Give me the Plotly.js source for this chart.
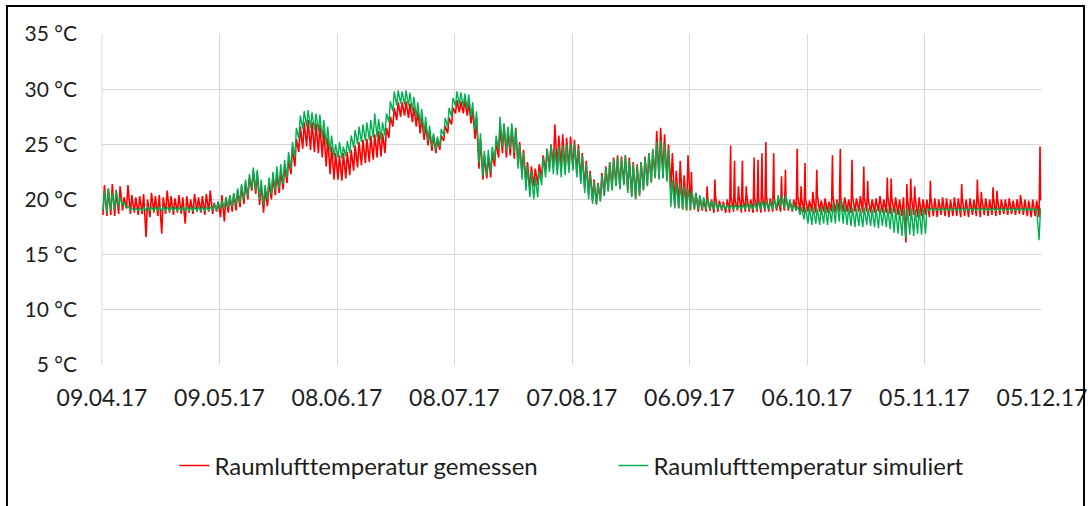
<!DOCTYPE html>
<html>
<head>
<meta charset="utf-8">
<script src="https://cdn.plot.ly/plotly-3.0.1.min.js"></script>
<style>
  html, body { margin: 0; padding: 0; background: #fff; }
  #chart { width: 1088px; height: 506px; }
</style>
</head>
<body>
<div id="chart"></div>
<script>
// Raumlufttemperatur 09.04.2017 – 05.12.2017, daily low / high per day (°C)
const startDay = '2017-04-09';
const endDay = '2017-12-05';

const measuredLow = [
  18.6,18.5,18.6,18.5,18.7,19.0,19.2,18.7,18.8,18.6,
  18.7,16.6,18.4,18.8,18.5,16.9,18.7,18.8,18.6,18.8,
  18.7,17.8,18.8,18.7,18.9,18.8,18.6,18.9,18.7,18.9,
  18.4,18.0,18.8,18.9,19.0,19.3,19.6,20.0,20.8,20.5,
  19.5,18.8,19.4,20.0,20.4,20.6,20.9,21.5,22.3,23.0,
  24.3,24.6,24.8,24.5,24.3,24.2,23.8,23.0,22.3,21.8,
  21.8,21.7,21.9,22.2,22.6,22.9,23.1,23.3,23.4,23.6,
  23.8,23.9,24.2,25.6,26.6,27.2,27.5,27.6,27.4,27.0,
  26.6,26.0,25.4,24.9,24.4,24.2,24.5,25.3,26.0,26.8,
  27.8,27.9,27.8,27.6,26.9,25.5,22.8,21.8,21.9,22.0,
  23.0,23.8,24.2,23.8,24.0,23.7,23.0,22.3,21.5,21.0,
  21.2,21.3,22.0,22.5,22.8,23.0,22.6,22.8,22.5,22.7,
  22.8,22.3,21.7,21.0,20.5,19.9,19.6,19.9,20.4,20.8,
  21.0,21.3,21.0,21.4,20.8,20.3,20.1,20.4,20.9,21.3,
  21.6,22.0,21.9,22.0,21.8,21.0,19.4,19.2,19.1,19.0,
  19.0,19.1,18.9,19.0,18.9,19.0,18.8,18.9,19.0,18.8,
  18.8,18.9,19.0,18.8,18.9,18.9,18.8,18.9,18.8,18.9,
  18.9,18.9,19.0,18.9,19.0,19.0,18.9,19.0,18.9,18.8,
  18.9,18.9,18.8,18.9,18.9,18.8,18.9,18.8,18.9,18.9,
  18.9,18.8,18.9,18.9,18.8,18.9,18.8,18.8,18.9,18.8,
  18.8,18.7,18.8,18.6,18.5,16.1,18.5,18.6,18.4,18.5,
  18.6,18.4,18.5,18.4,18.6,18.5,18.4,18.5,18.5,18.4,
  18.5,18.4,18.6,18.5,18.4,18.6,18.5,18.6,18.5,18.6,
  18.7,18.6,18.7,18.6,18.7,18.6,18.5,18.4,18.5,18.4
];
const measuredHigh = [
  21.3,21.0,21.4,20.8,21.2,20.2,21.3,20.4,20.2,20.3,
  20.5,20.0,20.6,20.3,20.4,20.2,20.8,20.3,20.1,20.4,
  20.2,20.3,20.0,20.5,20.2,20.3,20.5,20.8,19.7,19.8,
  20.4,20.2,20.3,20.5,20.8,21.2,21.5,22.0,22.6,22.4,
  21.4,20.8,21.5,22.0,22.3,22.6,23.0,23.6,24.6,25.5,
  26.6,27.0,27.2,27.0,26.9,26.8,26.3,25.6,24.8,24.2,
  24.0,24.2,24.3,24.5,24.9,25.2,25.4,25.5,25.8,25.9,
  26.2,26.0,26.5,27.5,28.3,28.8,28.8,28.9,28.7,28.4,
  28.0,27.4,26.8,26.2,25.8,25.4,25.8,26.7,27.4,28.3,
  29.0,28.9,29.0,28.8,28.2,27.4,25.5,24.0,23.9,24.2,
  25.3,26.5,26.8,26.2,26.6,26.5,25.2,24.5,23.4,23.0,
  22.8,23.2,24.0,24.6,25.0,26.8,25.8,25.9,25.6,25.7,
  25.4,25.0,24.2,23.5,22.6,21.8,21.5,22.4,23.0,23.4,
  23.8,24.0,23.9,24.0,23.8,23.4,23.2,23.4,23.9,24.2,
  24.5,26.2,26.5,25.9,25.0,24.2,22.6,23.5,22.2,24.0,
  20.6,20.6,20.3,20.0,20.2,20.0,20.3,19.9,19.8,20.0,
  20.2,20.0,20.4,20.1,20.3,20.0,20.2,20.1,20.4,20.3,
  20.1,20.2,20.0,20.3,20.2,19.9,20.0,20.3,20.1,20.0,
  19.9,20.2,20.4,19.9,20.1,19.8,20.3,20.0,20.2,20.2,
  20.0,20.3,20.1,20.3,20.2,20.1,20.0,20.1,20.3,20.0,
  20.3,20.2,20.2,20.0,20.2,20.1,20.3,20.2,20.2,20.0,
  20.0,20.2,20.1,20.0,20.2,20.1,20.0,20.2,20.1,20.2,
  20.0,20.1,20.0,20.3,20.1,20.1,20.0,20.2,20.1,20.0,
  20.0,20.1,19.9,20.0,20.1,20.0,19.9,20.0,19.9,19.9
];
// short heating peaks of the measured series (day index from startDay, °C)
const peakDays = [150,154,156,160,161,162,163,164,166,167,168,169,171,173,174,177,178,179,181,182,
                  186,188,191,194,195,200,201,205,206,207,211,219,223,224,227,228,234,239];
const peakValues = [22.5,21.2,21.8,24.9,23.5,21.2,23.5,21.2,23.8,23.6,24.2,25.2,24.2,22.1,22.7,24.6,21.2,23.3,20.7,22.7,
                    24.0,24.6,23.6,23.0,21.7,22.0,21.9,21.4,21.9,21.2,21.7,21.4,21.8,20.7,21.1,20.8,20.4,24.8];

const simulatedLow = [
  19.0,18.8,19.0,19.1,19.3,19.5,19.2,19.1,19.0,19.0,
  19.0,19.0,19.0,19.0,19.0,19.0,19.0,19.0,19.0,19.0,
  19.0,19.0,19.0,19.0,19.0,19.0,19.0,19.0,19.1,19.0,
  19.1,19.2,19.3,19.3,19.5,19.7,20.0,20.3,21.0,20.8,
  20.0,19.5,20.0,20.5,20.8,21.0,21.4,22.0,22.8,23.8,
  25.5,26.4,26.6,26.5,26.3,26.2,25.6,24.9,24.3,23.8,
  23.8,23.7,23.9,24.2,24.7,25.0,25.2,25.3,25.4,25.6,
  25.6,25.4,25.8,27.0,28.0,28.5,28.7,28.6,28.5,28.0,
  27.4,26.8,26.0,25.3,24.8,24.5,24.8,25.8,26.6,27.5,
  28.5,28.6,28.4,28.2,27.5,26.3,23.3,22.1,22.2,22.4,
  23.5,24.5,24.8,24.4,24.6,24.2,22.8,21.8,20.8,20.2,
  20.0,20.2,21.3,22.0,22.5,22.3,22.2,22.0,22.2,22.4,
  22.6,22.0,21.4,20.6,20.0,19.6,19.5,19.8,20.3,20.7,
  20.8,21.2,20.9,21.3,20.6,20.2,20.0,20.3,20.8,21.2,
  21.5,21.9,21.8,21.9,21.6,19.3,19.2,19.2,19.1,19.0,
  19.1,19.1,19.1,19.1,19.1,19.1,19.1,19.1,19.1,19.1,
  19.1,19.1,19.1,19.1,19.1,19.1,19.1,19.1,19.1,19.1,
  19.1,19.1,19.2,19.3,19.2,19.1,19.0,19.0,18.6,18.2,
  17.8,17.7,17.8,17.7,17.8,17.7,17.9,17.8,18.0,17.8,
  17.7,17.6,17.5,17.6,17.5,17.7,17.6,17.5,17.4,17.6,
  17.5,17.3,17.0,16.9,16.7,16.5,16.8,16.7,16.9,16.8,
  16.9,19.0,19.0,19.0,19.0,19.0,19.0,19.0,19.0,19.0,
  19.0,19.0,19.0,19.0,19.0,19.0,19.0,19.0,19.0,19.0,
  19.0,19.0,19.0,19.0,19.0,19.0,19.0,19.0,19.0,16.3
];
const simulatedHigh = [
  20.8,21.0,20.6,20.9,20.2,19.8,19.4,19.2,19.2,19.2,
  19.3,19.3,19.3,19.3,19.3,19.3,19.3,19.3,19.3,19.3,
  19.3,19.3,19.3,19.3,19.3,19.3,19.3,19.3,19.6,19.8,
  19.9,20.2,20.4,20.6,21.0,21.4,21.8,22.3,22.9,22.7,
  21.8,21.3,22.0,22.5,23.0,23.2,23.6,24.3,25.2,26.5,
  27.6,28.0,28.1,27.9,27.8,27.7,27.2,26.6,25.8,25.0,
  25.2,24.8,25.3,25.8,26.3,26.6,26.8,27.0,27.2,27.8,
  27.3,27.0,27.8,28.9,29.8,29.9,29.8,29.9,29.7,29.3,
  28.8,28.2,27.5,26.7,26.0,25.7,26.4,27.4,28.3,29.2,
  29.8,29.7,29.6,29.5,28.8,28.0,26.0,24.4,24.5,24.8,
  25.8,27.5,26.9,26.6,26.9,26.4,25.0,24.2,23.0,22.5,
  22.0,22.6,23.8,24.6,25.0,24.6,24.8,24.9,25.0,25.1,
  25.1,24.6,24.0,23.2,22.4,21.6,21.4,22.2,22.9,23.4,
  23.6,23.9,23.7,24.0,23.6,23.2,23.1,23.4,23.8,24.2,
  24.6,25.2,25.4,25.1,24.6,21.8,21.6,21.4,21.2,21.0,
  20.8,20.6,20.4,20.2,20.1,19.9,19.8,19.6,19.6,19.5,
  19.5,19.6,19.5,19.6,19.7,19.6,19.7,19.8,19.9,19.8,
  19.8,20.0,20.4,20.3,20.4,20.0,19.6,19.4,19.3,19.3,
  19.3,19.3,19.2,19.3,19.4,19.3,19.6,19.8,20.0,19.5,
  19.3,19.3,19.2,19.2,19.3,19.2,19.1,19.2,19.3,19.2,
  19.2,19.3,19.2,19.1,19.2,19.2,19.2,19.1,19.2,19.2,
  19.2,19.2,19.2,19.2,19.2,19.2,19.2,19.2,19.2,19.2,
  19.2,19.2,19.2,19.2,19.2,19.2,19.2,19.2,19.2,19.2,
  19.2,19.2,19.2,19.2,19.2,19.2,19.2,19.2,19.2,19.2
];

const seriesNames = ['Raumlufttemperatur gemessen', 'Raumlufttemperatur simuliert'];
const yTicks = [5, 10, 15, 20, 25, 30, 35];

// Each day contributes its early-morning low, an optional short peak, and the afternoon high.
const DAY_MS = 86400000;
function dayCurve(low, high, pDays, pValues) {
  const t0 = Date.parse(startDay + 'T00:00:00Z');
  const peaks = new Map((pDays || []).map((d, k) => [d, pValues[k]]));
  const x = [], y = [];
  const stamp = ms => new Date(ms).toISOString().slice(0, 19).replace('T', ' ');
  for (let i = 0; i < low.length; i++) {
    x.push(stamp(t0 + (i + 0.25) * DAY_MS)); y.push(low[i]);
    if (peaks.has(i)) { x.push(stamp(t0 + (i + 0.5) * DAY_MS)); y.push(peaks.get(i)); }
    x.push(stamp(t0 + (i + 0.625) * DAY_MS)); y.push(high[i]);
  }
  return { x, y };
}

const measured = dayCurve(measuredLow, measuredHigh, peakDays, peakValues);
const simulated = dayCurve(simulatedLow, simulatedHigh);

const family = 'Lato, "Open Sans", sans-serif';
const textColor = '#1e1e1e';

const traces = [
  { type: 'scatter', mode: 'lines', name: seriesNames[0], x: measured.x, y: measured.y,
    line: { color: '#ff0000', width: 1.6 }, hoverinfo: 'skip' },
  { type: 'scatter', mode: 'lines', name: seriesNames[1], x: simulated.x, y: simulated.y,
    line: { color: '#00b050', width: 1.4 }, hoverinfo: 'skip' }
];

const layout = {
  width: 1088, height: 506,
  margin: { l: 102, r: 46, t: 34, b: 141 },
  paper_bgcolor: '#ffffff', plot_bgcolor: '#ffffff',
  font: { family: family, size: 21, color: textColor },
  showlegend: true,
  legend: {
    orientation: 'h', x: 0.077, xanchor: 'left', y: -0.305, yanchor: 'middle',
    font: { family: family, size: 24, color: textColor },
    entrywidth: 394, entrywidthmode: 'pixels', traceorder: 'normal'
  },
  xaxis: {
    type: 'date', range: [startDay, endDay],
    tick0: startDay, dtick: 30 * DAY_MS, tickformat: '%d.%m.%y',
    showgrid: true, gridcolor: '#d9d9d9', gridwidth: 1,
    zeroline: false, showline: false, ticks: '', ticklabelstandoff: 17,
    tickfont: { family: family, size: 23, color: textColor }
  },
  yaxis: {
    range: [5, 35], tickvals: yTicks, ticktext: yTicks.map(v => v + ' °C'),
    showgrid: true, gridcolor: '#d9d9d9', gridwidth: 1,
    zeroline: false, showline: false, ticks: '', ticklabelstandoff: 24,
    tickfont: { family: family, size: 21, color: textColor }
  },
  shapes: [
    { type: 'line', xref: 'paper', yref: 'paper', x0: 0, x1: 0, y0: 0, y1: 1,
      line: { color: '#d9d9d9', width: 1 }, layer: 'below' },
    { type: 'rect', xref: 'paper', yref: 'paper',
      x0: -0.1011, x1: 1.0447, y0: -0.5, y1: 1.0846,
      line: { color: '#000000', width: 2 }, fillcolor: 'rgba(0,0,0,0)' }
  ]
};

Plotly.newPlot('chart', traces, layout, { displayModeBar: false, staticPlot: true });
</script>
</body>
</html>
